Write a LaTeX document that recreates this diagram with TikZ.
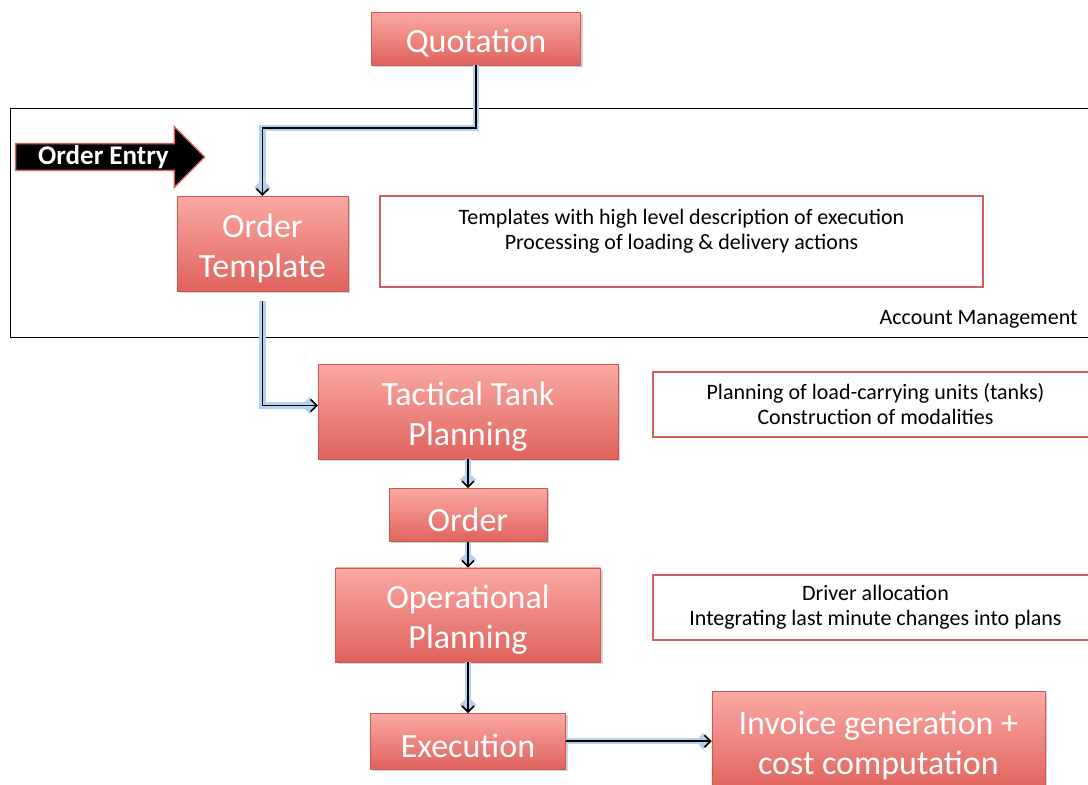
\documentclass[tikz,border=0pt]{standalone}
\usepackage{fontspec}
\setmainfont{Carlito}
\usepackage{tikz}
\usetikzlibrary{positioning, arrows.meta, shapes.arrows, shadows}

\definecolor{boxtop}{HTML}{FBA9A3}
\definecolor{boxbottom}{HTML}{E0625C}
\definecolor{noteline}{HTML}{D0605C}
\definecolor{glow}{HTML}{B4D2EE}

% lifts the first line of a box label
\newcommand{\liftline}{\rule{0pt}{33pt}}

\begin{document}
\begin{tikzpicture}[ x = 1pt, y = -1pt
                     , >={Straight Barb[length=6pt, width=12pt]}
                     , redbox/.style = { rectangle
                                       , top color = boxtop
                                       , bottom color = boxbottom
                                       , draw = boxbottom!90!black
                                       , line width = 0.4pt
                                       , drop shadow = {opacity=0.35, shadow xshift=2pt, shadow yshift=-2pt}
                                       , text = white
                                       , align = center
                                       , inner sep = 2pt
                                       , font = \fontsize{34}{40}\selectfont }
                     , notebox/.style = { rectangle
                                        , draw = noteline
                                        , line width = 1.5pt
                                        , align = center
                                        , font = \fontsize{22}{25}\selectfont }
                     , flow/.style = { draw = black
                                     , line width = 1.6pt
                                     , ->
                                     , preaction = {draw = glow, line width = 6.5pt} }
                     ]

  \useasboundingbox (0,0) rectangle (1088,785);

  % account management frame
  \draw[line width = 1pt] (10,108) rectangle (1100,337);
  \node (account) [anchor = east, font = \fontsize{22}{25}\selectfont] at (1081,319) {Account Management};

  \node (entry) [ single arrow
                , single arrow head extend = 17pt
                , minimum height = 189pt
                , minimum width = 35pt
                , inner sep = 1pt
                , fill = black
                , draw = noteline
                , line width = 1.5pt
                , text = white
                , font = \bfseries\fontsize{27}{28}\selectfont ] at (103.5,157) {Order Entry\hspace{20pt}};

  \node (quotation) [redbox, minimum width = 209pt, minimum height = 53pt] at (476,38.5) {\liftline Quotation};
  \node (template) [redbox, minimum width = 171pt, minimum height = 95pt] at (262.5,243.5) {\liftline Order\\Template};
  \node (tactical) [redbox, minimum width = 300pt, minimum height = 95pt] at (468,411.5) {\liftline Tactical Tank\\Planning};
  \node (order) [redbox, below = 29pt of tactical, minimum width = 158pt, minimum height = 53pt] {\liftline Order};
  \node (operational) [redbox, below = 26pt of order, minimum width = 265pt, minimum height = 94pt] {\liftline Operational\\Planning};
  \node (execution) [redbox, below = 51pt of operational, minimum width = 195pt, minimum height = 56pt] {\liftline Execution};
  \node (invoice) [redbox, right = 146pt of execution, minimum width = 333pt, minimum height = 100pt] {\liftline Invoice generation +\\cost computation};

  \node (templatenote) [notebox, minimum width = 603pt, minimum height = 91pt] at (681.5,241.5)
  {Templates with high level description of execution\\Processing of loading \& delivery actions\\\mbox{}};
  \node (tacticalnote) [notebox, minimum width = 445pt, minimum height = 65pt] at (875.5,404.5)
  {Planning of load-carrying units (tanks)\\Construction of modalities};
  \node (operationalnote) [notebox, minimum width = 445pt, minimum height = 65pt] at (875.5,607.5)
  {Driver allocation\\Integrating last minute changes into plans};

  \draw[flow] (quotation.south) -- ++(0,63) -| (template.north);
  \draw[flow] ([yshift=-10pt]template.south) |- ([yshift=6pt]tactical.west);
  \draw[flow] (tactical) -- (order);
  \draw[flow] (order) -- (operational);
  \draw[flow] (operational) -- (execution);
  \draw[flow] (execution) -- (invoice);

\end{tikzpicture}
\end{document}
